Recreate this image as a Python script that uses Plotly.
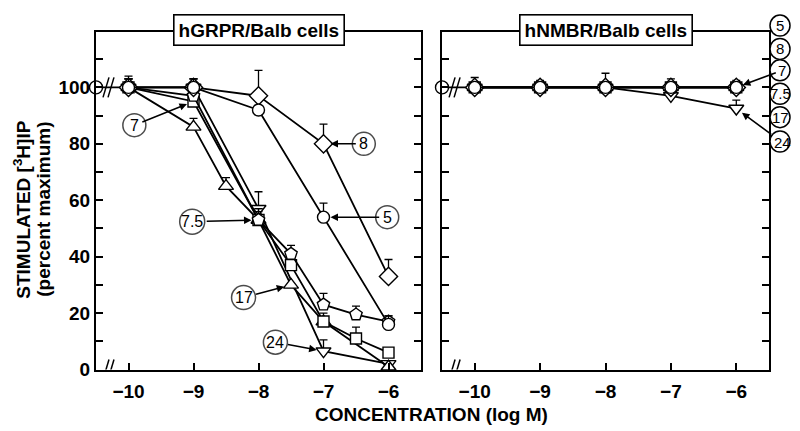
import plotly.graph_objects as go

# concentrations (log M)
CTRL_X = -10.5        # control (no peptide) point, drawn on the y axis
CTRL_Y = 100
BREAK_X = -10.3

# hGRPR/Balb cells: peptide -> (x, y, error up)
GRPR = {
    "5":   ([-10, -9, -8, -7, -6], [100, 100, 92, 54, 16], [4, 3, 0, 5, 3]),
    "8":   ([-10, -9, -8, -7, -6], [100, 100, 97, 80, 33], [3, 3, 9, 7, 6]),
    "7":   ([-10, -9, -8, -7.5, -7, -6.5, -6], [100, 95, 53, 37, 17, 11, 6], [3, 3, 4, 3, 3, 4, 0]),
    "7.5": ([-10, -9, -8, -7.5, -7, -6.5, -6], [100, 97, 53, 41, 23, 19.5, 17], [3, 3, 4, 3, 4, 3, 2]),
    "17":  ([-10, -9, -8.5, -8, -7.5, -7, -6], [100, 86, 65, 53, 30, 17, 1], [2, 3, 3, 3, 0, 0, 0]),
    "24":  ([-10, -9, -8, -7, -6], [100, 100, 57, 6.5, 2], [3, 3, 6, 4, 0]),
}

# hNMBR/Balb cells
NMBR_X = [-10, -9, -8, -7, -6]
NMBR = {
    "5":   [100, 100, 100, 100, 100],
    "8":   [100, 100, 100, 100, 100],
    "7":   [100, 100, 100, 100, 100],
    "7.5": [100, 100, 100, 100, 100],
    "17":  [100, 100, 100, 100, 100],
    "24":  [100, 100, 100, 97, 92.5],
}
NMBR_ERR = {
    "17": [3.5, 2.5, 5, 3, 2.5],
    "24": [0, 0, 0, 0, 3],
}

SYMBOLS = {"5": "circle", "8": "diamond", "7": "square",
           "7.5": "pentagon", "17": "triangle-up", "24": "triangle-down"}
SIZES = {"5": 12, "8": 14, "7": 11, "7.5": 13, "17": 13, "24": 13}

# callouts: label, label position, target point
LEFT_CALLOUTS = [
    ("7", -9.91, 86.6, -9, 95),
    ("8", -6.38, 80, -7, 80),
    ("7.5", -9.02, 52.4, -8, 53),
    ("5", -6.02, 54, -7, 54),
    ("17", -8.23, 25.5, -7.5, 30),
    ("24", -7.74, 9.7, -7, 6.5),
]
# key down the right edge (page pixels), two of them point at the -6 points
RIGHT_LABELS = ["5", "8", "7", "7.5", "17", "24"]
RIGHT_LABEL_PX = 780
RIGHT_LABEL_PY = [18, 42, 64, 88, 112, 137]
RIGHT_ARROWS = {"7": (-6, 100, 46, -17), "24": (-6, 92.5, 46, 34)}

FONT = "Liberation Sans, Arial, sans-serif"
LINE_W = 1.8
W, H, OFF = 800, 431, 8   # page is shifted 8px right by the body margin


def px(x):
    return (x - OFF) / W


def py(y):
    return 1 - y / H


fig = go.Figure()


def add_series(x, y, err, sym, size, xa, ya):
    fig.add_trace(go.Scatter(
        x=x, y=y, xaxis=xa, yaxis=ya, mode="lines+markers",
        line=dict(color="black", width=LINE_W),
        marker=dict(symbol=sym, size=size, color="white",
                    line=dict(color="black", width=1.4)),
        error_y=dict(type="data", array=err, arrayminus=[0] * len(err),
                     symmetric=False, color="black", thickness=1.3, width=4),
        cliponaxis=False, showlegend=False, hoverinfo="skip",
    ))


for xa, ya in (("x", "y"), ("x2", "y2")):
    # control point joined to the first concentration
    fig.add_trace(go.Scatter(
        x=[CTRL_X, -10], y=[CTRL_Y, CTRL_Y], xaxis=xa, yaxis=ya, mode="lines",
        line=dict(color="black", width=LINE_W), cliponaxis=False,
        showlegend=False, hoverinfo="skip"))

for key in ["24", "17", "7", "7.5", "8", "5"]:
    x, y, err = GRPR[key]
    add_series(x, y, err, SYMBOLS[key], SIZES[key], "x", "y")

for key in ["24", "17", "7", "7.5", "8", "5"]:
    err = NMBR_ERR.get(key, [0] * len(NMBR_X))
    add_series(NMBR_X, NMBR[key], err, SYMBOLS[key], SIZES[key], "x2", "y2")

for xa, ya in (("x", "y"), ("x2", "y2")):
    fig.add_trace(go.Scatter(
        x=[CTRL_X], y=[CTRL_Y], xaxis=xa, yaxis=ya, mode="markers",
        marker=dict(symbol="circle", size=13, color="white",
                    line=dict(color="black", width=1.4)),
        cliponaxis=False, showlegend=False, hoverinfo="skip"))

# label circles inside the left panel
fig.add_trace(go.Scatter(
    x=[c[1] for c in LEFT_CALLOUTS], y=[c[2] for c in LEFT_CALLOUTS],
    xaxis="x", yaxis="y", mode="markers",
    marker=dict(symbol="circle", size=[23, 23, 25, 23, 24, 24], color="white",
                line=dict(color="black", width=1.5)),
    cliponaxis=False, showlegend=False, hoverinfo="skip"))

annotations = []
shapes = []
for lab, lx, ly, tx, ty in LEFT_CALLOUTS:
    annotations.append(dict(
        text=lab, x=tx, y=ty, ax=lx, ay=ly, xref="x", yref="y", axref="x", ayref="y",
        showarrow=True, arrowhead=2, arrowsize=1, arrowwidth=1.5, arrowcolor="black",
        standoff=7, borderpad=3,
        font=dict(family=FONT, size=16, color="black")))

for lab, ly in zip(RIGHT_LABELS, RIGHT_LABEL_PY):
    shapes.append(dict(
        type="circle", xref="paper", yref="paper", xsizemode="pixel", ysizemode="pixel",
        xanchor=px(RIGHT_LABEL_PX), yanchor=py(ly), x0=-10, x1=10, y0=-10.5, y1=10.5,
        fillcolor="white", line=dict(color="black", width=1.5), layer="above"))
    if lab in RIGHT_ARROWS:
        tx, ty, dx, dy = RIGHT_ARROWS[lab]
        annotations.append(dict(
            text=lab, x=tx, y=ty, ax=dx, ay=dy, xref="x2", yref="y2",
            showarrow=True, arrowhead=2, arrowsize=1,
            arrowwidth=1.5, arrowcolor="black", standoff=7, borderpad=2,
            font=dict(family=FONT, size=15, color="black")))
    else:
        annotations.append(dict(
            text=lab, x=px(RIGHT_LABEL_PX), y=py(ly), xref="paper", yref="paper",
            xanchor="center", yanchor="middle", showarrow=False,
            font=dict(family=FONT, size=15, color="black")))

XD1 = [px(96), px(421)]
XD2 = [px(442), px(769)]
YD = [py(371), py(25)]

for dom, title in ((XD1, "hGRPR/Balb cells"), (XD2, "hNMBR/Balb cells")):
    annotations.append(dict(
        text="<b>%s</b>" % title, x=(dom[0] + dom[1]) / 2, y=py(23),
        xref="paper", yref="paper", xanchor="center", yanchor="middle",
        showarrow=False, bgcolor="white", bordercolor="black", borderwidth=1.6, borderpad=4,
        font=dict(family=FONT, size=19, color="black")))

# y title, one annotation per line
for text, xpos in (("<b>STIMULATED [<sup>3</sup>H]IP</b>", 22), ("<b>(percent maximum)</b>", 44)):
    annotations.append(dict(
        text=text, textangle=-90, x=px(xpos), y=py(207), xref="paper", yref="paper",
        xanchor="center", yanchor="middle", showarrow=False,
        font=dict(family=FONT, size=19, color="black")))
annotations.append(dict(
    text="<b>CONCENTRATION (log M)</b>", x=px(431), y=py(417), xref="paper", yref="paper",
    xanchor="center", yanchor="middle",
    showarrow=False, font=dict(family=FONT, size=19, color="black")))

# axis break marks
for xr, yr, anchor in (("x", "y", 0), ("x", "y", CTRL_Y), ("x2", "y2", 0), ("x2", "y2", CTRL_Y)):
    for off in (-3, 2):
        shapes.append(dict(
            type="line", xref=xr, yref=yr, xsizemode="pixel", ysizemode="pixel",
            xanchor=BREAK_X, yanchor=anchor, x0=off - 3, x1=off + 3, y0=-10, y1=10,
            line=dict(color="black", width=1.5)))

XTICKS = [-10, -9, -8, -7, -6]
YTICKS = [0, 20, 40, 60, 80, 100]
tickfont = dict(family=FONT, size=19, color="black", weight="bold")

xcommon = dict(range=[-10.5, -5.5], showline=True, mirror=True, linecolor="black",
               linewidth=2, ticks="inside", ticklen=7, tickwidth=1.8, tickcolor="black",
               tickvals=XTICKS, ticktext=["\u2212%d" % abs(v) for v in XTICKS],
               ticklabelstandoff=4,
               tickfont=tickfont, showgrid=False, zeroline=False, fixedrange=True)
ycommon = dict(range=[0, 119.5], domain=YD, showline=True, mirror="ticks", linecolor="black",
               linewidth=2, ticks="inside", ticklen=7, tickwidth=1.8, tickcolor="black",
               tickvals=YTICKS, tickfont=tickfont, showgrid=False, zeroline=False,
               minor=dict(dtick=10, ticks="inside", ticklen=7, tickwidth=1.8,
                          tickcolor="black", showgrid=False),
               fixedrange=True)

fig.update_layout(
    width=W, height=H,
    margin=dict(l=0, r=0, t=0, b=0),
    paper_bgcolor="white", plot_bgcolor="white",
    xaxis=dict(domain=XD1, anchor="y", **xcommon),
    xaxis2=dict(domain=XD2, anchor="y2", **xcommon),
    yaxis=dict(anchor="x", **ycommon),
    yaxis2=dict(anchor="x2", showticklabels=False, **ycommon),
    annotations=annotations,
    shapes=shapes,
    showlegend=False,
)

fig.write_html("out.html")
